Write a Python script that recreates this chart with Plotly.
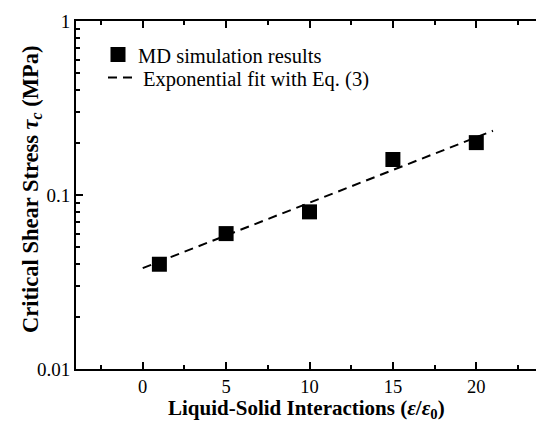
import plotly.graph_objects as go

# Data
interaction = [1, 5, 10, 15, 20]
shear_stress = [0.040, 0.060, 0.080, 0.160, 0.200]
fit_x = [0, 21]
fit_y = [0.038, 0.234]

x_ticks = [0, 5, 10, 15, 20]
y_ticks = [0.01, 0.1, 1]
y_ticktext = ["0.01", "0.1", "1"]
y_minor = [0.02, 0.03, 0.04, 0.05, 0.06, 0.07, 0.08, 0.09,
           0.2, 0.3, 0.4, 0.5, 0.6, 0.7, 0.8, 0.9]

FONT = "Liberation Serif"

fig = go.Figure()
fig.add_trace(go.Scatter(
    x=interaction, y=shear_stress, mode="markers",
    name="MD simulation results", legend="legend",
    marker=dict(symbol="square", size=15, color="black"),
))
fig.add_trace(go.Scatter(
    x=fit_x, y=fit_y, mode="lines",
    name="Exponential fit with Eq. (3)", legend="legend2",
    line=dict(color="black", width=2, dash="9px,6px"),
))

fig.update_layout(
    width=536, height=421,
    margin=dict(l=76, r=0, t=21, b=52),
    paper_bgcolor="white", plot_bgcolor="white",
    font=dict(family=FONT, size=19, color="black"),
    showlegend=True,
    legend=dict(x=22 / 460, y=0.903, xanchor="left", yanchor="middle",
                bgcolor="rgba(0,0,0,0)", font=dict(family=FONT, size=20.5),
                itemwidth=30),
    legend2=dict(x=27 / 460, y=0.837, xanchor="left", yanchor="middle",
                 bgcolor="rgba(0,0,0,0)", font=dict(family=FONT, size=20.5),
                 itemwidth=30),
    xaxis=dict(
        range=[-4, 23.58], showgrid=False, zeroline=False,
        showline=True, linecolor="black", linewidth=2, mirror="ticks",
        ticks="inside", ticklen=7, tickwidth=2, tickcolor="black",
        tickvals=x_ticks,
        minor=dict(ticks="inside", ticklen=4, tickwidth=1.5, tickcolor="black", dtick=2.5, tick0=0),
        tickfont=dict(family=FONT, size=18.5),
    ),
    yaxis=dict(
        type="log", range=[-2, 0], showgrid=False, zeroline=False,
        showline=True, linecolor="black", linewidth=2,
        ticks="inside", ticklen=7, tickwidth=2, tickcolor="black",
        tickvals=y_ticks, ticktext=y_ticktext,
        minor=dict(ticks="inside", ticklen=4, tickwidth=1.5, tickcolor="black", tickvals=y_minor),
        tickfont=dict(family=FONT, size=19),
    ),
    annotations=[
        dict(text="<b>Liquid-Solid Interactions (<i>ε</i>/<i>ε</i><sub>0</sub>)</b>",
             xref="paper", yref="paper", x=0.5, y=-0.115, xanchor="center", yanchor="middle",
             showarrow=False, font=dict(family=FONT, size=21)),
        dict(text="<b>Critical Shear Stress <i>τ<sub>c</sub></i> (MPa)</b>",
             xref="paper", yref="paper", x=-0.096, y=0.517, xanchor="center", yanchor="middle",
             textangle=-90, showarrow=False, font=dict(family=FONT, size=22.5)),
    ],
)

fig.write_html("out.html")
